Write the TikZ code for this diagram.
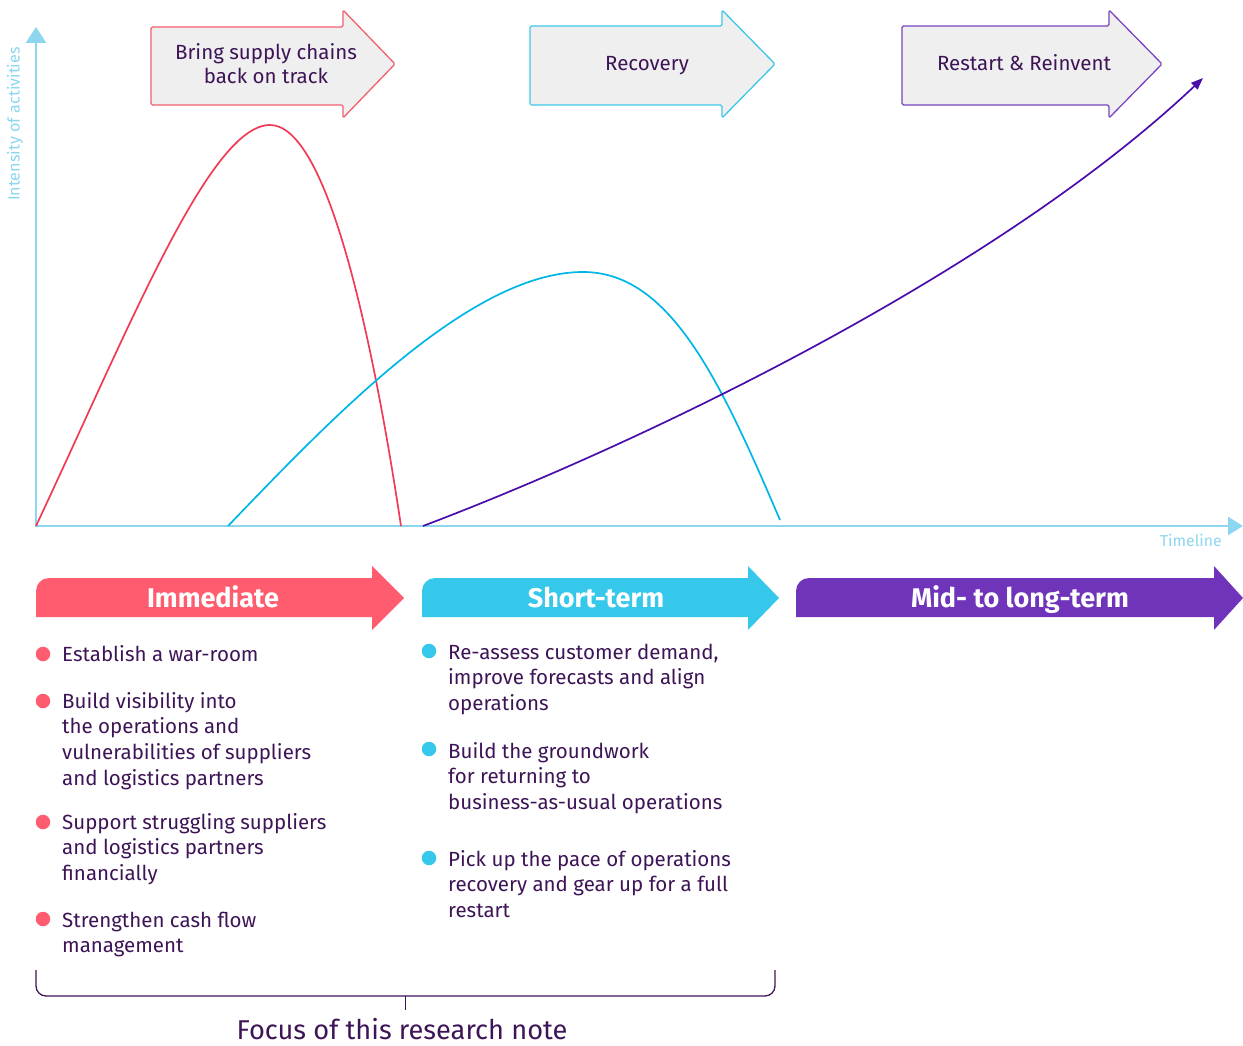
\documentclass[tikz,border=0pt]{standalone}
\usepackage{fontspec}
\setmainfont{Fira Sans}
\usetikzlibrary{arrows.meta}
\definecolor{axisc}{RGB}{140,214,240}
\definecolor{redc}{RGB}{240,58,86}
\definecolor{cyanc}{RGB}{0,182,230}
\definecolor{purc}{RGB}{75,12,172}
\definecolor{immc}{RGB}{255,92,112}
\definecolor{shortc}{RGB}{54,200,234}
\definecolor{midc}{RGB}{111,52,185}
\definecolor{boxfill}{RGB}{239,239,239}
\definecolor{redb}{RGB}{242,96,112}
\definecolor{cyanb}{RGB}{61,200,234}
\definecolor{purb}{RGB}{122,69,192}
\definecolor{textc}{RGB}{61,20,86}
\tikzset{
  toparrow/.style={fill=boxfill, line width=1.3pt, rounded corners=1.5pt},
  toplabel/.style={text=textc, font=\fontsize{20.5}{24}\selectfont, align=center, inner sep=0},
  banner/.style={text=white, font=\fontsize{27}{30}\selectfont\bfseries, inner sep=0, anchor=base},
  item/.style={text=textc, font=\fontsize{20.5}{25.7}\selectfont, align=left, anchor=north west, inner sep=0},
  bul/.style={circle, minimum size=14.5pt, inner sep=0},
  curve/.style={line width=1.7pt},
  axislabel/.style={text=axisc, inner sep=0}
}
\begin{document}
\begin{tikzpicture}[x=1pt,y=-1pt]
\useasboundingbox (0,0) rectangle (1243,1046);

% axes
\draw[axisc, line width=2.8pt, {Triangle[length=16pt,width=20pt]}-{Triangle[length=15pt,width=18pt]}]
  (36,27) -- (36,526) -- (1243,526);
\node[axislabel, rotate=90, font=\fontsize{16.2}{18}\selectfont] (ylab) at (15,124) {Intensity of activities};
\node[axislabel, anchor=base east, font=\fontsize{15.8}{18}\selectfont] (xlab) at (1222,546) {Timeline};

% top arrows
\draw[toparrow, draw=redb] (151,27) -- (343,27) -- (343,10) -- (395,64) -- (343,118) -- (343,105) -- (151,105) -- cycle;
\node[toplabel] (a1) at (266,64) {Bring supply chains\\back on track};
\draw[toparrow, draw=cyanb] (530,26) -- (722,26) -- (722,10) -- (775,64) -- (722,118) -- (722,105) -- (530,105) -- cycle;
\node[toplabel, anchor=base] (a2) at (647,71) {Recovery};
\draw[toparrow, draw=purb] (902,26) -- (1109,26) -- (1109,10) -- (1162,64) -- (1109,118) -- (1109,105) -- (902,105) -- cycle;
\node[toplabel, anchor=base] (a3) at (1024,71) {Restart \& Reinvent};

% curves
\draw[curve, redc] (36,526) .. controls (130,326) and (210,125) .. (270,125)
  .. controls (325,125) and (370,320) .. (401,526);
\draw[curve, cyanc] (228,526) .. controls (330,420) and (470,272) .. (583,272)
  .. controls (670,272) and (720,380) .. (780,520);
\draw[curve, purc, -{Triangle[length=12pt,width=9pt]}] (423,526) .. controls (650,440) and (1000,270) .. (1203,78);

% banners
\fill[immc] (36,617) -- (36,591) .. controls (36,583.8) and (41.8,578) .. (49,578) -- (372,578) -- (372,566) -- (404,598) -- (372,630) -- (372,617) -- cycle;
\node[banner] (b1) at (213,607) {Immediate};
\fill[shortc] (422,617) -- (422,591) .. controls (422,583.8) and (427.8,578) .. (435,578) -- (748,578) -- (748,566) -- (779,598) -- (748,630) -- (748,617) -- cycle;
\node[banner] (b2) at (596,607) {Short-term};
\fill[midc] (796,617) -- (796,591) .. controls (796,583.8) and (801.8,578) .. (809,578) -- (1214,578) -- (1214,566) -- (1243,598) -- (1214,630) -- (1214,617) -- cycle;
\node[banner] (b3) at (1020,607) {Mid- to long-term};

% red bullets
\node[bul, fill=immc] (r1) at (43,654) {};
\node[item] (rt1) at (62,643) {\strut Establish a war-room};
\node[bul, fill=immc] (r2) at (43,701) {};
\node[item] (rt2) at (62,690) {\strut Build visibility into\\the operations and\\vulnerabilities of suppliers\\and logistics partners};
\node[bul, fill=immc] (r3) at (43,822) {};
\node[item] (rt3) at (62,811) {\strut Support struggling suppliers\\and logistics partners\\financially};
\node[bul, fill=immc] (r4) at (43,919) {};
\node[item] (rt4) at (62,909) {\strut Strengthen cash flow\\management};

% cyan bullets
\node[bul, fill=shortc] (c1) at (429,651) {};
\node[item] (ct1) at (448,641) {\strut Re-assess customer demand,\\improve forecasts and align\\operations};
\node[bul, fill=shortc] (c2) at (429,749) {};
\node[item] (ct2) at (448,740) {\strut Build the groundwork\\for returning to\\business-as-usual operations};
\node[bul, fill=shortc] (c3) at (429,858) {};
\node[item] (ct3) at (448,848) {\strut Pick up the pace of operations\\recovery and gear up for a full\\restart};

% bracket
\draw[textc, line width=1.3pt] (36,970) -- (36,986) .. controls (36,991.5) and (40.5,996) .. (46,996) -- (765,996) .. controls (770.5,996) and (775,991.5) .. (775,986) -- (775,970);
\coordinate (tickA) at (405,996);
\node[text=textc, font=\fontsize{27.2}{32}\selectfont, inner sep=0, anchor=base] (focus) at (402,1039) {Focus of this research note};
\draw[textc, line width=1pt] (tickA) -- (405,1010);
\end{tikzpicture}
\end{document}
